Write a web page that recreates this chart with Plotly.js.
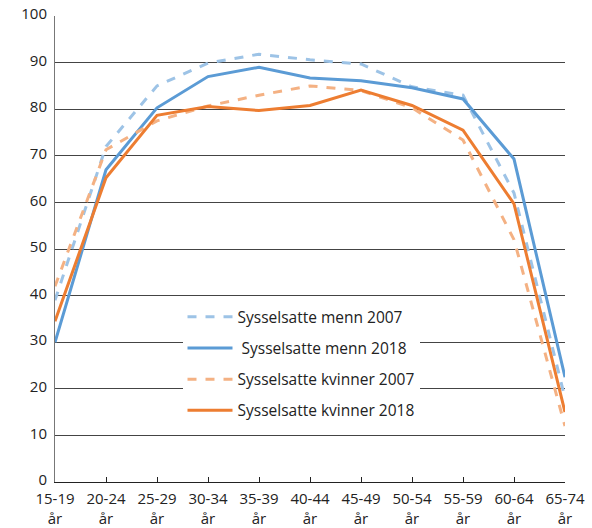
<!DOCTYPE html>
<html>
<head>
<meta charset="utf-8">
<script src="https://cdn.plot.ly/plotly-3.0.1.min.js"></script>
<style>html,body{margin:0;padding:0;background:#fff;}#chart{width:592px;height:528px;}</style>
</head>
<body>
<div id="chart"></div>
<script>
const categories = ["15-19<br>år","20-24<br>år","25-29<br>år","30-34<br>år","35-39<br>år","40-44<br>år","45-49<br>år","50-54<br>år","55-59<br>år","60-64<br>år","65-74<br>år"];
const menn2007 = [39, 72, 85, 89.9, 91.8, 90.6, 89.7, 84.8, 83, 62, 18];
const menn2018 = [30, 67, 80.3, 87, 89, 86.7, 86.1, 84.6, 82.2, 69.3, 22.5];
const kvinner2007 = [42, 71.3, 77.5, 80.7, 83, 85, 84, 80.3, 73.4, 52, 12];
const kvinner2018 = [34.5, 65.3, 78.7, 80.6, 79.7, 80.8, 84.1, 80.8, 75.5, 59.7, 15];
const seriesNames = ["Sysselsatte menn 2007", "\u00a0Sysselsatte menn 2018", "Sysselsatte kvinner 2007", "Sysselsatte kvinner 2018"];
const xIdx = categories.map((c, i) => i);

const mk = (y, name, color, dash, g) => ({
  x: xIdx, y: y, name: name, type: 'scatter', mode: 'lines',
  legendgroup: g,
  line: {color: color, width: 3, dash: dash}
});

const data = [
  mk(menn2007, seriesNames[0], '#9dc3e6', 'dash', 'a'),
  mk(menn2018, seriesNames[1], '#5b9bd5', 'solid', 'b'),
  mk(kvinner2007, seriesNames[2], '#f4b183', 'dash', 'c'),
  mk(kvinner2018, seriesNames[3], '#ed7d31', 'solid', 'd')
];

const layout = {
  width: 592, height: 528,
  margin: {l: 55, r: 27, t: 16, b: 46},
  paper_bgcolor: '#fff', plot_bgcolor: '#fff',
  font: {family: '"Open Sans", sans-serif', size: 15.5, color: '#222'},
  showlegend: true,
  legend: {
    x: 0.25, y: 0.39, xanchor: 'left', yanchor: 'top',
    bgcolor: '#ffffff', borderwidth: 0,
    font: {size: 15.5, color: '#222'},
    itemwidth: 45,
    traceorder: 'grouped', tracegroupgap: 8
  },
  xaxis: {
    range: [0, 10], tickmode: 'array', tickvals: xIdx, ticktext: categories,
    showgrid: false, zeroline: false,
    showline: true, linecolor: '#222', linewidth: 1,
    ticks: 'inside', ticklen: 5, tickcolor: '#222',
    ticklabelstandoff: 3,
    tickfont: {size: 15, color: '#222'}, fixedrange: true
  },
  yaxis: {
    range: [0, 100], dtick: 10,
    showgrid: true, gridcolor: '#444', gridwidth: 1,
    zeroline: false, showline: true, linecolor: '#777', linewidth: 1,
    ticks: '', ticklabelstandoff: 4, ticklabelshift: -2,
    tickfont: {size: 15, color: '#222'}, fixedrange: true
  }
};

Plotly.newPlot('chart', data, layout, {displayModeBar: false, staticPlot: true});
</script>
</body>
</html>
